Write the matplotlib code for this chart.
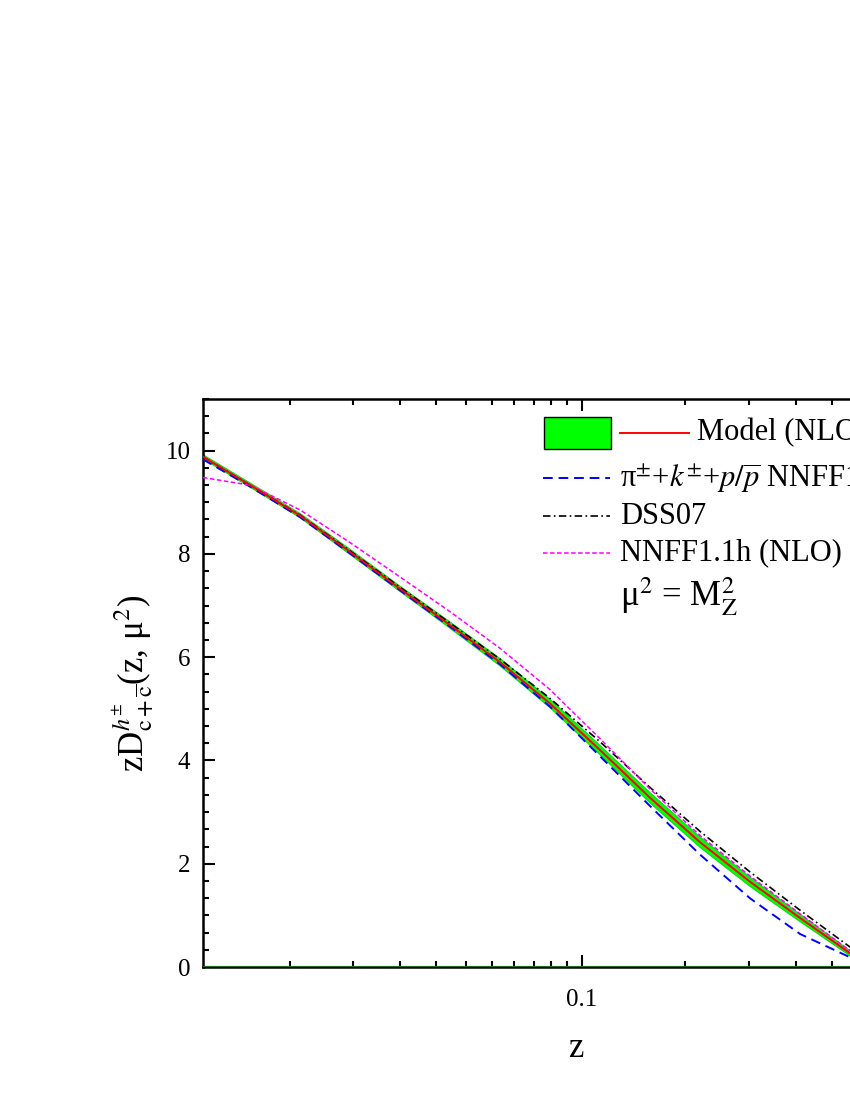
import numpy as np
import matplotlib
matplotlib.use('Agg')
import matplotlib.pyplot as plt
from matplotlib.ticker import FixedLocator, NullFormatter, MultipleLocator
from matplotlib.patches import Rectangle
from matplotlib.lines import Line2D

plt.rcParams.update({
    'font.family': ['Liberation Serif', 'DejaVu Serif'],
    'mathtext.fontset': 'stix',
    'xtick.labelsize': 18,
    'ytick.labelsize': 18,
    'axes.labelsize': 25,
})

# shifted log axis: position ~ log10(z + C_SHIFT)
C_SHIFT = 0.0225

z = [-0.0089, -0.0046, 0.0014, 0.0094, 0.0202, 0.0345, 0.0537, 0.0793,
     0.1135, 0.159, 0.220, 0.302, 0.411, 0.556, 0.627]
model = [9.88, 9.33, 8.74, 8.04, 7.32, 6.62, 5.90, 5.10,
         4.20, 3.28, 2.42, 1.65, 0.95, 0.27, 0.12]
model_err = [0.04, 0.04, 0.04, 0.05, 0.05, 0.06, 0.07, 0.08,
             0.09, 0.10, 0.10, 0.09, 0.07, 0.05, 0.04]
nnff10 = [9.83, 9.30, 8.71, 8.01, 7.29, 6.59, 5.86, 5.04,
          4.08, 3.12, 2.18, 1.33, 0.64, 0.19, 0.08]
dss07 = [9.88, 9.33, 8.75, 8.06, 7.35, 6.66, 5.96, 5.20,
         4.36, 3.48, 2.63, 1.84, 1.10, 0.39, 0.22]
nnff11h = [9.48, 9.33, 8.85, 8.22, 7.55, 6.88, 6.17, 5.37,
           4.42, 3.45, 2.55, 1.76, 1.03, 0.32, 0.15]

x_major = [0.1]
x_minor = [0.0, 0.01, 0.02, 0.03, 0.04, 0.05, 0.06, 0.07, 0.08, 0.09,
           0.2, 0.3, 0.4, 0.5, 0.6, 0.7, 0.8, 0.9]
x_lim = (-0.0089, 1.0)
y_lim = (0, 11)


def fwd(v):
    return np.log10(np.clip(np.asarray(v) + C_SHIFT, 1e-6, None))


def inv(v):
    return 10 ** np.asarray(v) - C_SHIFT


W, H = 850, 1100
fig = plt.figure(figsize=(8.5, 11), dpi=100)
ax_l, ax_r, ax_t, ax_b = 203, 948, 399, 967
ax = fig.add_axes([ax_l / W, (H - ax_b) / H, (ax_r - ax_l) / W, (ax_b - ax_t) / H])
ax.set_xscale('function', functions=(fwd, inv))

zz = np.array(z)
m = np.array(model)
e = np.array(model_err)
ax.fill_between(zz, m - e, m + e, color='#00ff00', lw=0, zorder=2)
ax.plot(zz, m - e, color='#22cc22', lw=0.8, zorder=2)
ax.plot(zz, m + e, color='#22cc22', lw=0.8, zorder=2)
ax.plot(zz, m, color='#ff0000', lw=1.4, zorder=5)
ax.plot(zz, nnff10, color='#0000ff', lw=1.4, dashes=(5, 3), zorder=4)
ax.plot(zz, dss07, color='black', lw=1.2, dashes=(4.5, 2, 1, 2), zorder=4)
ax.plot(zz, nnff11h, color='#ff00ff', lw=1.1, dashes=(3, 1.6), zorder=4)
ax.axhline(0, color='#1d6b1d', lw=1.5, zorder=6)

ax.set_xlim(*x_lim)
ax.set_ylim(*y_lim)
ax.xaxis.set_major_locator(FixedLocator(x_major))
ax.xaxis.set_minor_locator(FixedLocator(x_minor))
ax.xaxis.set_minor_formatter(NullFormatter())
ax.set_xticklabels(['0.1'])
ax.yaxis.set_major_locator(MultipleLocator(2))
ax.yaxis.set_minor_locator(MultipleLocator(2 / 6))
ax.tick_params(which='both', direction='in', top=True, right=True, width=1.5)
ax.tick_params(which='major', length=8.5)
ax.tick_params(which='minor', length=4.3)
ax.tick_params(axis='x', pad=16)
ax.tick_params(axis='y', pad=9)
for s in ax.spines.values():
    s.set_linewidth(1.8)

ax.set_xlabel('z', labelpad=15)
ax.set_ylabel(r'zD$^{h^{\pm}}_{\mathrm{c+\overline{c}}}$(z, μ$^{2}$)', labelpad=6)


# legend drawn by hand (pixel layout converted to axes fraction)
def fx(px):
    return (px - ax_l) / (ax_r - ax_l)


def fy(py):
    return (ax_b - py) / (ax_b - ax_t)


tr = ax.transAxes
ax.add_patch(Rectangle((fx(544), fy(449)), fx(611) - fx(544), fy(417) - fy(449),
                       facecolor='#00ff00', edgecolor='black', lw=1.0,
                       transform=tr, zorder=7))
ax.add_line(Line2D([fx(620), fx(689)], [fy(433)] * 2, color='#ff0000', lw=1.4,
                   transform=tr, zorder=7))
ax.text(fx(697), fy(433), 'Model (NLO)', transform=tr, fontsize=22, va='center')

rows = [
    (478, dict(color='#0000ff', lw=1.4, dashes=(5, 3)),
     r'π$^{\pm}$+$k^{\pm}$+$p/\overline{p}$ NNFF1.0 (NLO)'),
    (516, dict(color='black', lw=1.2, dashes=(4.5, 2, 1, 2)), 'DSS07'),
    (553, dict(color='#ff00ff', lw=1.1, dashes=(3, 1.6)), 'NNFF1.1h (NLO)'),
]
for py, style, label in rows:
    ax.add_line(Line2D([fx(543), fx(610)], [fy(py)] * 2, transform=tr, zorder=7, **style))
    ax.text(fx(620), fy(py), label, transform=tr, fontsize=22, va='center')

ax.text(fx(620), fy(597), r'μ$^{2}$ = M$_{\mathrm{Z}}^{2}$', transform=tr,
        fontsize=25, va='center')

fig.savefig('out.png', dpi=100)
